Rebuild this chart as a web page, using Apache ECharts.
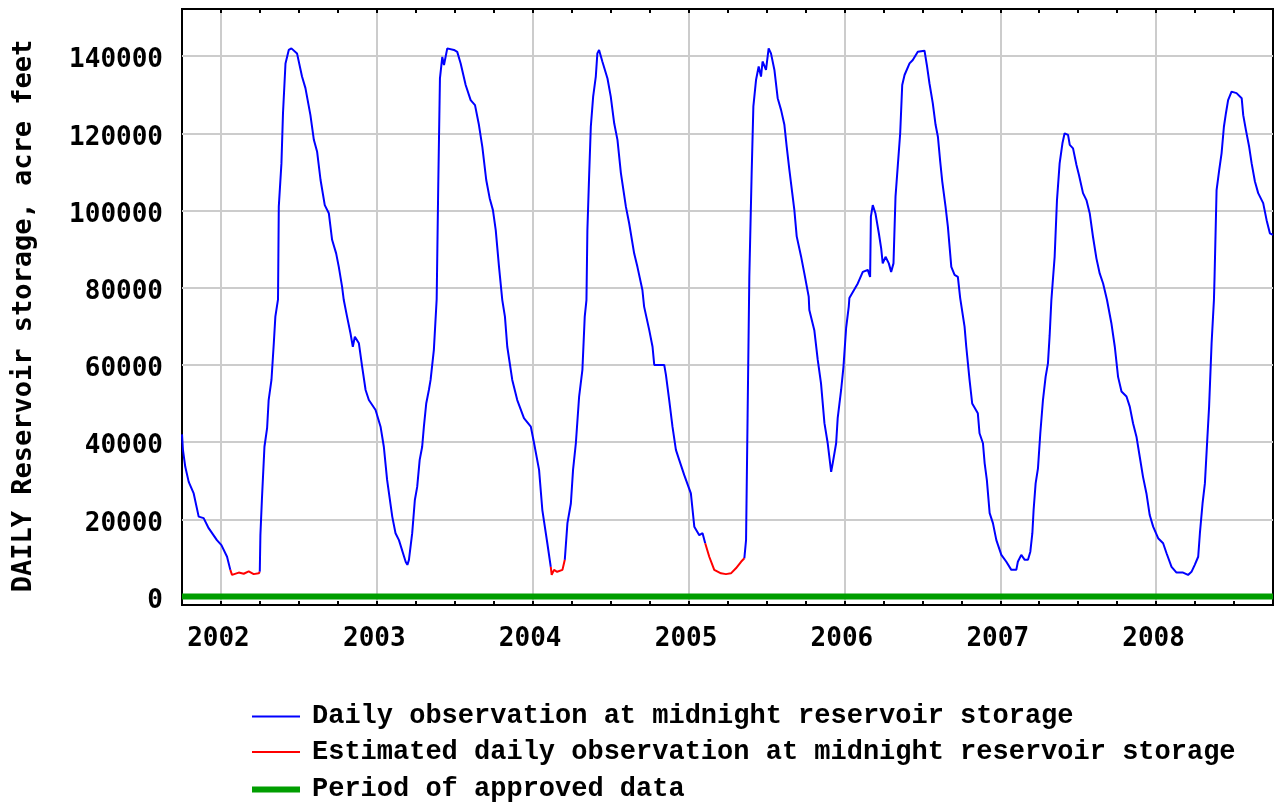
<!DOCTYPE html>
<html>
<head>
<meta charset="utf-8">
<script src="https://cdn.jsdelivr.net/npm/echarts@6/dist/echarts.min.js"></script>
<style>
  html, body { margin: 0; padding: 0; background: #fff; }
  #chart { width: 1276px; height: 804px; }
</style>
</head>
<body>
<div id="chart"></div>
<script>
// decimal year, acre feet  (null = gap where estimated values take over)
const observedStorage = [
  [2001.750, 42000], [2001.756, 38000], [2001.771, 33600], [2001.793, 29700], [2001.825, 26700],
  [2001.857, 20700], [2001.889, 20300], [2001.921, 17700], [2001.974, 14600], [2002.003, 13300],
  [2002.039, 10300], [2002.060, 6900],
  [2002.150, null],
  [2002.249, 6400], [2002.253, 15900], [2002.263, 25400], [2002.279, 38800], [2002.296, 43600],
  [2002.306, 50900], [2002.324, 56100], [2002.339, 65600], [2002.349, 72500], [2002.366, 77000],
  [2002.371, 101000], [2002.388, 112200], [2002.398, 125200], [2002.414, 138100], [2002.435, 141600],
  [2002.452, 142000], [2002.488, 140700], [2002.520, 134700], [2002.542, 131700], [2002.574, 124700],
  [2002.596, 118300], [2002.617, 115200], [2002.639, 107900], [2002.666, 101400], [2002.692, 99300],
  [2002.713, 92400], [2002.739, 88900], [2002.756, 85400], [2002.777, 80300], [2002.788, 76800],
  [2002.809, 72500], [2002.831, 68200], [2002.846, 64700], [2002.859, 67300], [2002.885, 65600],
  [2002.906, 59500], [2002.928, 53500], [2002.949, 50900], [2002.992, 48300], [2003.024, 44000],
  [2003.045, 38800], [2003.066, 30200], [2003.099, 20700], [2003.120, 16400], [2003.142, 14600],
  [2003.185, 9000], [2003.196, 8200], [2003.206, 9500], [2003.227, 16400], [2003.244, 25000],
  [2003.259, 28400], [2003.275, 35400], [2003.291, 38800], [2003.302, 44000], [2003.317, 50000],
  [2003.334, 53500], [2003.345, 56100], [2003.366, 63900], [2003.384, 77000], [2003.394, 106200],
  [2003.405, 134200], [2003.420, 139800], [2003.431, 137700], [2003.452, 142000], [2003.495, 141600],
  [2003.516, 141100], [2003.538, 138100], [2003.570, 132500], [2003.602, 128600], [2003.630, 127300],
  [2003.655, 122200], [2003.677, 116500], [2003.702, 107900], [2003.724, 103200], [2003.745, 100100],
  [2003.763, 94900], [2003.784, 85400], [2003.805, 76800], [2003.822, 72500], [2003.837, 64700],
  [2003.869, 56100], [2003.901, 50900], [2003.944, 46200], [2003.988, 44000], [2004.009, 39700],
  [2004.041, 32800], [2004.062, 22400], [2004.094, 13800], [2004.116, 7700],
  [2004.160, null],
  [2004.206, 9500], [2004.223, 19000], [2004.245, 24100], [2004.259, 32800], [2004.277, 39700],
  [2004.298, 51800], [2004.319, 58700], [2004.334, 72500], [2004.345, 76800], [2004.351, 94900],
  [2004.362, 108800], [2004.373, 121700], [2004.388, 129500], [2004.405, 134700], [2004.415, 140700],
  [2004.426, 141600], [2004.447, 138600], [2004.480, 134200], [2004.501, 129500], [2004.523, 122600],
  [2004.544, 118300], [2004.566, 109700], [2004.598, 101000], [2004.619, 96700], [2004.651, 88900],
  [2004.672, 85400], [2004.704, 79400], [2004.715, 75100], [2004.748, 69000], [2004.769, 64700],
  [2004.780, 60000], [2004.844, 60000], [2004.855, 57400], [2004.876, 50900], [2004.897, 44000],
  [2004.919, 38000], [2004.940, 35400], [2004.972, 31500], [2005.015, 26700], [2005.037, 18100],
  [2005.069, 15900], [2005.090, 16400], [2005.107, 13800],
  [2005.230, null],
  [2005.358, 9900], [2005.369, 14600], [2005.379, 47000], [2005.390, 82800], [2005.405, 109700],
  [2005.416, 127000], [2005.433, 133800], [2005.450, 137300], [2005.465, 134700], [2005.475, 138600],
  [2005.497, 136400], [2005.514, 142000], [2005.529, 140700], [2005.551, 136400], [2005.572, 129100],
  [2005.594, 126000], [2005.615, 122200], [2005.630, 116500], [2005.647, 110500], [2005.679, 100100],
  [2005.694, 93300], [2005.722, 88100], [2005.743, 83700], [2005.771, 77700], [2005.775, 74200],
  [2005.807, 69000], [2005.829, 61300], [2005.850, 55200], [2005.872, 44900], [2005.893, 39700],
  [2005.915, 32300], [2005.925, 34500], [2005.947, 39700], [2005.957, 46200], [2005.979, 53500],
  [2005.994, 59500], [2006.011, 69500], [2006.028, 75100], [2006.032, 77300], [2006.086, 81100],
  [2006.118, 84100], [2006.150, 84600], [2006.165, 82800], [2006.170, 98400], [2006.182, 101400],
  [2006.199, 99300], [2006.221, 94100], [2006.236, 90200], [2006.246, 86300], [2006.264, 88000],
  [2006.285, 86300], [2006.300, 84100], [2006.315, 86300], [2006.328, 103600], [2006.343, 111800],
  [2006.358, 120000], [2006.371, 132500], [2006.386, 135100], [2006.418, 138100], [2006.439, 139000],
  [2006.471, 141100], [2006.514, 141400], [2006.529, 137700], [2006.546, 132900], [2006.567, 127800],
  [2006.585, 122200], [2006.600, 119100], [2006.615, 112600], [2006.628, 107500], [2006.649, 101000],
  [2006.664, 95800], [2006.686, 85400], [2006.707, 83300], [2006.728, 82800], [2006.743, 77300],
  [2006.771, 69900], [2006.782, 64700], [2006.803, 56100], [2006.820, 50000], [2006.856, 47500],
  [2006.867, 42300], [2006.889, 39700], [2006.900, 34500], [2006.914, 30200], [2006.932, 21600],
  [2006.953, 19000], [2006.975, 14600], [2007.007, 10800], [2007.039, 9000], [2007.071, 6900],
  [2007.103, 6900], [2007.113, 9000], [2007.135, 10800], [2007.157, 9500], [2007.178, 9500],
  [2007.193, 11600], [2007.206, 16400], [2007.214, 22400], [2007.227, 29300], [2007.242, 33200],
  [2007.257, 42300], [2007.274, 50900], [2007.291, 56900], [2007.306, 60400], [2007.317, 67700],
  [2007.328, 76800], [2007.336, 81100], [2007.349, 88000], [2007.364, 102700], [2007.381, 112200],
  [2007.399, 117400], [2007.413, 120000], [2007.435, 119600], [2007.446, 117000], [2007.467, 116100],
  [2007.489, 111800], [2007.505, 109200], [2007.531, 104500], [2007.553, 102700], [2007.574, 99300],
  [2007.595, 93200], [2007.617, 87600], [2007.638, 83700], [2007.660, 81100], [2007.685, 76800],
  [2007.713, 70800], [2007.735, 64700], [2007.756, 56900], [2007.778, 53100], [2007.810, 51800],
  [2007.831, 49200], [2007.852, 44900], [2007.874, 41400], [2007.895, 36200], [2007.916, 31000],
  [2007.938, 26700], [2007.959, 21100], [2007.981, 18100], [2008.013, 15100], [2008.045, 13800],
  [2008.067, 11200], [2008.099, 7700], [2008.131, 6200], [2008.173, 6200], [2008.205, 5600],
  [2008.227, 6400], [2008.248, 8200], [2008.270, 10300], [2008.281, 16400], [2008.298, 24100],
  [2008.313, 29300], [2008.327, 39700], [2008.340, 49200], [2008.356, 65600], [2008.371, 76800],
  [2008.375, 82800], [2008.388, 105300], [2008.405, 110500], [2008.420, 114800], [2008.435, 121700],
  [2008.448, 125200], [2008.462, 128600], [2008.484, 130800], [2008.516, 130400], [2008.549, 129100],
  [2008.559, 124700], [2008.576, 120900], [2008.597, 116500], [2008.613, 112200], [2008.634, 107500],
  [2008.655, 104500], [2008.687, 101900], [2008.709, 97500], [2008.730, 94100], [2008.750, 93700]
];

const estimatedStorage = [
  [2002.060, 6900], [2002.071, 5600], [2002.114, 6200], [2002.146, 5900], [2002.178, 6500],
  [2002.210, 5800], [2002.242, 6000], [2002.249, 6400],
  [2003.000, null],
  [2004.116, 7700], [2004.122, 5600], [2004.137, 6900], [2004.157, 6400], [2004.191, 6900],
  [2004.206, 9500],
  [2004.600, null],
  [2005.107, 13800], [2005.133, 10300], [2005.165, 6900], [2005.208, 6000], [2005.240, 5800],
  [2005.272, 6000], [2005.304, 7300], [2005.337, 9000], [2005.358, 9900]
];

const approvedPeriod = [[2001.75, 0], [2008.75, 0]];

const yearTicks = [2002, 2003, 2004, 2005, 2006, 2007, 2008];
const storageTicks = [0, 20000, 40000, 60000, 80000, 100000, 120000, 140000];

const seriesNames = [
  'Daily observation at midnight reservoir storage',
  'Estimated daily observation at midnight reservoir storage',
  'Period of approved data'
];

const quarterTicks = [];
for (let y = 2001; y <= 2008; y++) {
  [0, 0.25, 0.5, 0.75].forEach(q => {
    const v = y + q;
    if (v > 2001.75 && v < 2008.75) quarterTicks.push(v);
  });
}

const chart = echarts.init(document.getElementById('chart'));

const tickFont = {
  fontFamily: 'DejaVu Sans Mono',
  fontWeight: 'bold',
  fontSize: 26,
  color: '#000'
};

const legendText = {
  fontFamily: 'Liberation Mono',
  fontWeight: 'bold',
  fontSize: 27,
  color: '#000',
  padding: [0, 0, 0, 7]
};

const xRange = { type: 'value', min: 2001.75, max: 2008.75 };

const quarterAxis = position => ({
  ...xRange,
  position,
  axisLine: { show: false },
  axisTick: { show: true, inside: true, length: 4, customValues: quarterTicks, lineStyle: { color: '#000', width: 2 } },
  axisLabel: { show: false },
  splitLine: { show: false }
});

const option = {
  animation: false,
  backgroundColor: '#fff',
  grid: {
    left: 182,
    right: 3,
    top: 9,
    bottom: 199,
    show: true,
    borderColor: '#000',
    borderWidth: 2,
    backgroundColor: '#fff'
  },
  legend: [{
    orient: 'vertical',
    left: 252,
    top: 703,
    padding: 0,
    icon: 'rect',
    itemWidth: 48,
    itemHeight: 2,
    itemGap: 8.5,
    textStyle: legendText,
    data: seriesNames.slice(0, 2)
  }, {
    orient: 'vertical',
    left: 252,
    top: 776,
    padding: 0,
    icon: 'rect',
    itemWidth: 48,
    itemHeight: 6,
    textStyle: legendText,
    data: seriesNames.slice(2)
  }],
  xAxis: [{
    ...xRange,
    position: 'bottom',
    axisLine: { show: false },
    axisTick: { show: false, customValues: yearTicks },
    axisLabel: {
      customValues: yearTicks,
      margin: 21,
      padding: [0, 5, 0, 0],
      formatter: v => String(Math.round(v)),
      ...tickFont
    },
    splitLine: { show: true, lineStyle: { color: '#cccccc', width: 2 } }
  }, quarterAxis('top'), quarterAxis('bottom')],
  yAxis: {
    type: 'value',
    min: -2200,
    max: 152200,
    name: 'DAILY Reservoir storage, acre feet',
    nameLocation: 'middle',
    nameRotate: 90,
    nameGap: 145,
    nameTextStyle: {
      fontFamily: 'DejaVu Sans Mono',
      fontWeight: 'bold',
      fontSize: 27,
      lineHeight: 27,
      color: '#000',
      padding: [0, 18, 0, 0]
    },
    axisLine: { show: false },
    axisTick: { show: false, customValues: storageTicks },
    axisLabel: {
      customValues: storageTicks,
      margin: 19,
      verticalAlign: 'top',
      lineHeight: 9,
      formatter: v => String(Math.round(v)),
      ...tickFont
    },
    splitLine: { show: true, lineStyle: { color: '#cccccc', width: 2 } }
  },
  series: [{
    name: seriesNames[0],
    type: 'line',
    xAxisIndex: 0,
    symbol: 'none',
    connectNulls: false,
    lineStyle: { color: '#0000ff', width: 2 },
    itemStyle: { color: '#0000ff' },
    data: observedStorage,
    z: 3
  }, {
    name: seriesNames[1],
    type: 'line',
    xAxisIndex: 0,
    symbol: 'none',
    connectNulls: false,
    lineStyle: { color: '#ff0000', width: 2 },
    itemStyle: { color: '#ff0000' },
    data: estimatedStorage,
    z: 4
  }, {
    name: seriesNames[2],
    type: 'line',
    xAxisIndex: 0,
    symbol: 'none',
    lineStyle: { color: '#009e00', width: 6 },
    itemStyle: { color: '#009e00' },
    data: approvedPeriod,
    z: 5
  }]
};

chart.setOption(option);
</script>
</body>
</html>
